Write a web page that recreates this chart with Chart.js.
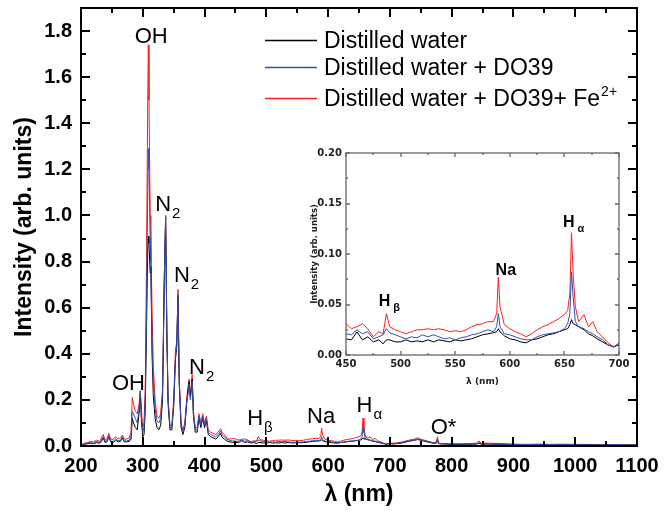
<!DOCTYPE html>
<html>
<head>
<meta charset="utf-8">
<script src="https://cdn.jsdelivr.net/npm/chart.js@4.4.0/dist/chart.umd.min.js"></script>
<style>
  html, body { margin: 0; padding: 0; background: #fff; }
  #wrap { position: relative; width: 667px; height: 516px; }
  #main { position: absolute; left: 0; top: 0; }
  #inset { position: absolute; left: 296px; top: 145px; }
</style>
</head>
<body>
<div id="wrap">
  <canvas id="main" width="667" height="516"></canvas>
  <canvas id="inset" width="345" height="245"></canvas>
</div>
<script>
// wavelength (nm) and the three emission spectra
const WAVELENGTH = [
  200,205,210,215,220,225,230,233,236,239,242,245,248,252,256,260,264,267,270,274,278,
  281,283,285,288,291,294,296,298,300,302,304,306,308,309,310,312,313,315,317,320,323,326,329,332,335,
  337,339,341,344,347,350,353,355,357,359,362,365,368,371,373,375,377,380,382,385,388,391,394,397,400,
  403,406,410,414,418,422,426,428,432,436,440,445,
  450,455,460,465,470,475,480,484,487,490,495,500,505,510,515,520,525,530,535,540,545,550,555,560,565,
  570,575,580,585,588,589.5,591,595,600,605,610,615,620,625,630,635,640,645,650,653,655,656.5,658,660,
  663,668,672,676,680,685,690,695,700,
  705,710,720,730,740,745,750,760,770,775,777,779,790,800,820,840,844,848,860,880,900,920,940,960,980,
  1000,1020,1040,1060,1080,1100
];
const WATER = [
  .003,.006,.010,.012,.010,.015,.012,.020,.035,.015,.018,.040,.018,.015,.025,.018,.020,.035,.018,.018,.020,
  .03,.12,.10,.08,.07,.14,.23,.10,.04,.05,.15,.50,.85,.91,.88,.75,.78,.40,.22,.12,.08,.07,.09,.20,.74,
  .99,.48,.18,.07,.07,.17,.38,.43,.65,.27,.08,.05,.08,.18,.24,.28,.21,.29,.13,.06,.06,.12,.08,.12,.08,
  .11,.05,.04,.035,.03,.04,.055,.04,.03,.022,.018,.016,
  .016,.015,.023,.015,.018,.013,.015,.011,.015,.015,.013,.013,.015,.013,.014,.013,.015,.013,.015,.014,
  .013,.015,.014,.015,.016,.018,.020,.021,.022,.023,.026,.023,.019,.016,.015,.013,.012,.015,.016,.018,
  .020,.021,.023,.025,.026,.030,.035,.031,.030,.028,.025,.021,.019,.016,.013,.010,.008,.010,
  .009,.010,.013,.020,.025,.028,.025,.018,.012,.012,.022,.010,.008,.007,.007,.008,.012,.008,.008,.007,
  .006,.005,.006,.005,.005,.005,.005,.004,.005,.004,.004
];
const WATER_DO39 = [
  .004,.008,.012,.015,.012,.020,.015,.025,.040,.020,.022,.045,.022,.020,.030,.022,.025,.040,.022,.022,.025,
  .04,.15,.14,.12,.10,.16,.24,.12,.06,.08,.20,.60,1.10,1.29,1.20,.90,.80,.45,.28,.16,.11,.10,.12,.23,.75,
  1.00,.50,.20,.08,.08,.18,.40,.44,.66,.28,.09,.06,.09,.19,.22,.27,.20,.28,.14,.07,.07,.13,.09,.13,.09,
  .12,.06,.05,.045,.04,.05,.065,.05,.04,.03,.025,.022,
  .021,.020,.025,.021,.023,.016,.018,.020,.026,.022,.020,.018,.016,.018,.017,.020,.018,.020,.018,.016,
  .017,.015,.017,.018,.020,.021,.023,.025,.023,.028,.041,.028,.021,.020,.018,.016,.015,.015,.018,.020,
  .021,.022,.023,.026,.031,.041,.082,.058,.033,.028,.026,.023,.021,.018,.015,.010,.008,.011,
  .010,.011,.015,.022,.027,.030,.027,.020,.013,.013,.028,.011,.009,.008,.008,.009,.015,.009,.009,.008,
  .007,.006,.007,.006,.006,.006,.005,.005,.006,.005,.005
];
const WATER_DO39_FE = [
  .005,.012,.015,.020,.018,.025,.020,.035,.050,.025,.030,.055,.030,.028,.040,.030,.035,.048,.030,.030,.035,
  .06,.21,.18,.15,.14,.18,.24,.15,.08,.10,.25,.80,1.50,1.74,1.50,1.00,.90,.60,.35,.20,.13,.12,.14,.25,.75,
  .99,.50,.20,.09,.09,.20,.42,.45,.68,.30,.10,.07,.10,.20,.25,.29,.22,.31,.15,.08,.08,.14,.10,.14,.10,
  .13,.07,.06,.055,.05,.06,.075,.06,.05,.035,.03,.032,
  .031,.026,.028,.031,.026,.018,.023,.021,.041,.028,.025,.023,.021,.023,.025,.025,.026,.025,.026,.025,
  .023,.024,.023,.025,.028,.030,.031,.033,.033,.041,.077,.048,.030,.026,.023,.021,.018,.021,.025,.028,
  .030,.033,.036,.040,.044,.061,.121,.081,.048,.033,.040,.028,.033,.023,.018,.012,.008,.012,
  .012,.013,.018,.025,.030,.036,.030,.022,.015,.015,.040,.012,.010,.009,.010,.012,.022,.012,.012,.011,
  .008,.007,.008,.007,.008,.007,.007,.006,.006,.005,.005
];

// axis ticks
const X_TICKS = [200,300,400,500,600,700,800,900,1000,1100];
const X_MINOR = [250,350,450,550,650,750,850,950,1050];
const Y_TICKS = [0,0.2,0.4,0.6,0.8,1.0,1.2,1.4,1.6,1.8];
const Y_MINOR = [0.1,0.3,0.5,0.7,0.9,1.1,1.3,1.5,1.7];
const INSET_X_TICKS = [450,500,550,600,650,700];
const INSET_X_MINOR = [475,525,575,625,675];
const INSET_Y_TICKS = [0,0.05,0.10,0.15,0.20];
const INSET_Y_MINOR = [0.025,0.075,0.125,0.175];

const SERIES_NAMES = ['Distilled water', 'Distilled water + DO39', 'Distilled water + DO39+ Fe'];
const COLORS = ['#000000', '#3050b4', '#ff1e1e'];

const ARIAL = "Arial, 'Liberation Sans', Helvetica, sans-serif";
const DEJAVU = "'DejaVu Sans', sans-serif";
Chart.defaults.font.family = ARIAL;
Chart.defaults.color = '#000';

function makeDatasets() {
  const all = [WATER, WATER_DO39, WATER_DO39_FE];
  const order = [1, 0, 2]; // blue on top, red at the back
  return all.map((vals, i) => ({
    label: SERIES_NAMES[i],
    data: WAVELENGTH.map((w, k) => ({ x: w, y: vals[k] })),
    borderColor: COLORS[i],
    borderWidth: 1,
    pointRadius: 0,
    tension: 0,
    fill: false,
    order: order[i]
  }));
}

// frame + inward ticks on all four sides, placed from the scales themselves
function frameTicks(cfg) {
  return {
    id: cfg.id,
    afterDraw(chart) {
      const { ctx } = chart;
      const sx = chart.scales.x, sy = chart.scales.y;
      const L = sx.getPixelForValue(sx.min), R = sx.getPixelForValue(sx.max);
      const T = sy.getPixelForValue(sy.max), B = sy.getPixelForValue(sy.min);
      ctx.save();
      ctx.strokeStyle = cfg.color;
      ctx.lineWidth = cfg.width;
      ctx.beginPath();
      const xt = (vals, len) => vals.forEach(v => {
        const p = Math.round(sx.getPixelForValue(v));
        ctx.moveTo(p, B); ctx.lineTo(p, B - len);
        ctx.moveTo(p, T); ctx.lineTo(p, T + len);
      });
      const yt = (vals, len) => vals.forEach(v => {
        const p = Math.round(sy.getPixelForValue(v));
        ctx.moveTo(L, p); ctx.lineTo(L + len, p);
        ctx.moveTo(R, p); ctx.lineTo(R - len, p);
      });
      xt(cfg.xMajor, cfg.majorLen); xt(cfg.xMinor, cfg.minorLen);
      yt(cfg.yMajor, cfg.majorLen); yt(cfg.yMinor, cfg.minorLen);
      ctx.stroke();
      ctx.strokeRect(L, T, R - L, B - T);
      ctx.restore();
    }
  };
}

// peak labels, anchored in data coordinates
function peakLabels(cfg) {
  return {
    id: cfg.id,
    afterDatasetsDraw(chart) {
      const { ctx } = chart;
      const sx = chart.scales.x, sy = chart.scales.y;
      ctx.save();
      ctx.fillStyle = '#000';
      ctx.textAlign = 'left';
      ctx.textBaseline = 'alphabetic';
      cfg.items.forEach(it => {
        const px = sx.getPixelForValue(it.x), py = sy.getPixelForValue(it.y);
        ctx.font = cfg.font;
        ctx.fillText(it.text, px, py);
        if (it.sub) {
          const w = ctx.measureText(it.text).width;
          ctx.font = cfg.subFont;
          ctx.fillText(it.sub, px + w + cfg.subGap, py + cfg.subDy);
        }
      });
      ctx.restore();
    }
  };
}

// legend drawn by hand for the superscript
const handLegend = {
  id: 'handLegend',
  afterDraw(chart) {
    const { ctx } = chart;
    const rows = [40, 67, 98];
    ctx.save();
    rows.forEach((y, i) => {
      ctx.strokeStyle = COLORS[i];
      ctx.lineWidth = 1.3;
      ctx.beginPath();
      ctx.moveTo(265, y + 0.5); ctx.lineTo(317, y + 0.5);
      ctx.stroke();
      ctx.fillStyle = '#000';
      ctx.font = '23px ' + ARIAL;
      ctx.textBaseline = 'alphabetic';
      ctx.fillText(SERIES_NAMES[i], 324, y + 8);
      if (i === 2) {
        const w = ctx.measureText(SERIES_NAMES[i]).width;
        ctx.font = '14px ' + ARIAL;
        ctx.fillText('2+', 324 + w + 1, y - 2);
      }
    });
    ctx.restore();
  }
};

const noPad = s => { s.paddingTop = 0; s.paddingBottom = 0; s.paddingLeft = 0; s.paddingRight = 0; };

new Chart(document.getElementById('main'), {
  type: 'line',
  data: { datasets: makeDatasets() },
  options: {
    responsive: false,
    animation: false,
    layout: { padding: { top: 8, right: 30, left: 0, bottom: 0 } },
    plugins: { legend: { display: false }, tooltip: { enabled: false } },
    scales: {
      x: {
        type: 'linear', min: 200, max: 1100,
        afterBuildTicks: s => { s.ticks = X_TICKS.map(v => ({ value: v })); },
        afterFit: s => { s.height = 70; noPad(s); },
        grid: { display: false, drawTicks: false },
        border: { display: false },
        ticks: { font: { size: 20, weight: 'bold' }, padding: 8, maxRotation: 0, autoSkip: false,
                 callback: v => String(v) },
        title: { display: true, text: 'λ (nm)', font: { size: 23, weight: 'bold' }, padding: { top: 0, bottom: 8 } }
      },
      y: {
        min: 0, max: 1.9,
        afterBuildTicks: s => { s.ticks = Y_TICKS.map(v => ({ value: v })); },
        afterFit: s => { s.width = 81; noPad(s); },
        grid: { display: false, drawTicks: false },
        border: { display: false },
        ticks: { font: { size: 20, weight: 'bold' }, padding: 9, callback: v => v.toFixed(1) },
        title: { display: true, text: 'Intensity (arb. units)', font: { size: 23, weight: 'bold' }, padding: { top: 11, bottom: 0 } }
      }
    }
  },
  plugins: [
    frameTicks({ id: 'mainFrame', color: '#000', width: 2, majorLen: 9, minorLen: 5,
      xMajor: X_TICKS, xMinor: X_MINOR, yMajor: Y_TICKS, yMinor: Y_MINOR }),
    peakLabels({
      id: 'mainLabels',
      font: '22px ' + ARIAL, subFont: '15px ' + ARIAL, subGap: 1, subDy: 7,
      items: [
        { text: 'OH', x: 287, y: 1.75 },
        { text: 'N', sub: '2', x: 320, y: 1.02 },
        { text: 'N', sub: '2', x: 350.5, y: 0.713 },
        { text: 'N', sub: '2', x: 375, y: 0.312 },
        { text: 'OH', x: 250, y: 0.243 },
        { text: 'H', sub: 'β', x: 469, y: 0.091 },
        { text: 'Na', x: 566, y: 0.101 },
        { text: 'H', sub: 'α', x: 646, y: 0.148 },
        { text: 'O*', x: 766, y: 0.052 }
      ]
    }),
    handLegend
  ]
});

const whiteBg = {
  id: 'whiteBg',
  beforeDraw(chart) {
    const { ctx, chartArea: a } = chart;
    ctx.save();
    ctx.fillStyle = '#fff';
    ctx.fillRect(a.left, a.top, a.right - a.left, a.bottom - a.top);
    ctx.restore();
  }
};

new Chart(document.getElementById('inset'), {
  type: 'line',
  data: { datasets: makeDatasets() },
  options: {
    responsive: false,
    animation: false,
    layout: { padding: { top: 8, right: 22, left: 0, bottom: 0 } },
    plugins: { legend: { display: false }, tooltip: { enabled: false } },
    scales: {
      x: {
        type: 'linear', min: 450, max: 700,
        afterBuildTicks: s => { s.ticks = INSET_X_TICKS.map(v => ({ value: v })); },
        afterFit: s => { s.height = 35; noPad(s); },
        grid: { display: false, drawTicks: false },
        border: { display: false },
        ticks: { font: { family: DEJAVU, size: 10, weight: 'bold' }, color: '#222', padding: 3, maxRotation: 0, autoSkip: false,
                 callback: v => String(v) },
        title: { display: true, text: 'λ (nm)', font: { family: DEJAVU, size: 9, weight: 'bold' }, color: '#222', padding: { top: 0, bottom: 3 } }
      },
      y: {
        min: 0, max: 0.2,
        afterBuildTicks: s => { s.ticks = INSET_Y_TICKS.map(v => ({ value: v })); },
        afterFit: s => { s.width = 50; noPad(s); },
        grid: { display: false, drawTicks: false },
        border: { display: false },
        ticks: { font: { family: DEJAVU, size: 10, weight: 'bold' }, color: '#222', padding: 4, callback: v => v.toFixed(2) },
        title: { display: true, text: 'Intensity (arb. units)', font: { family: DEJAVU, size: 8.5, weight: 'bold' }, color: '#222', padding: { top: 14, bottom: 0 } }
      }
    }
  },
  plugins: [
    whiteBg,
    frameTicks({ id: 'insetFrame', color: '#666', width: 1.3, majorLen: 4, minorLen: 2,
      xMajor: INSET_X_TICKS, xMinor: INSET_X_MINOR, yMajor: INSET_Y_TICKS, yMinor: INSET_Y_MINOR }),
    peakLabels({
      id: 'insetLabels',
      font: 'bold 16px ' + ARIAL, subFont: 'bold 11px ' + ARIAL, subGap: 3, subDy: 5,
      items: [
        { text: 'H', sub: 'β', x: 480, y: 0.0485 },
        { text: 'Na', x: 587, y: 0.079 },
        { text: 'H', sub: 'α', x: 648.7, y: 0.127 }
      ]
    })
  ]
});
</script>
</body>
</html>
